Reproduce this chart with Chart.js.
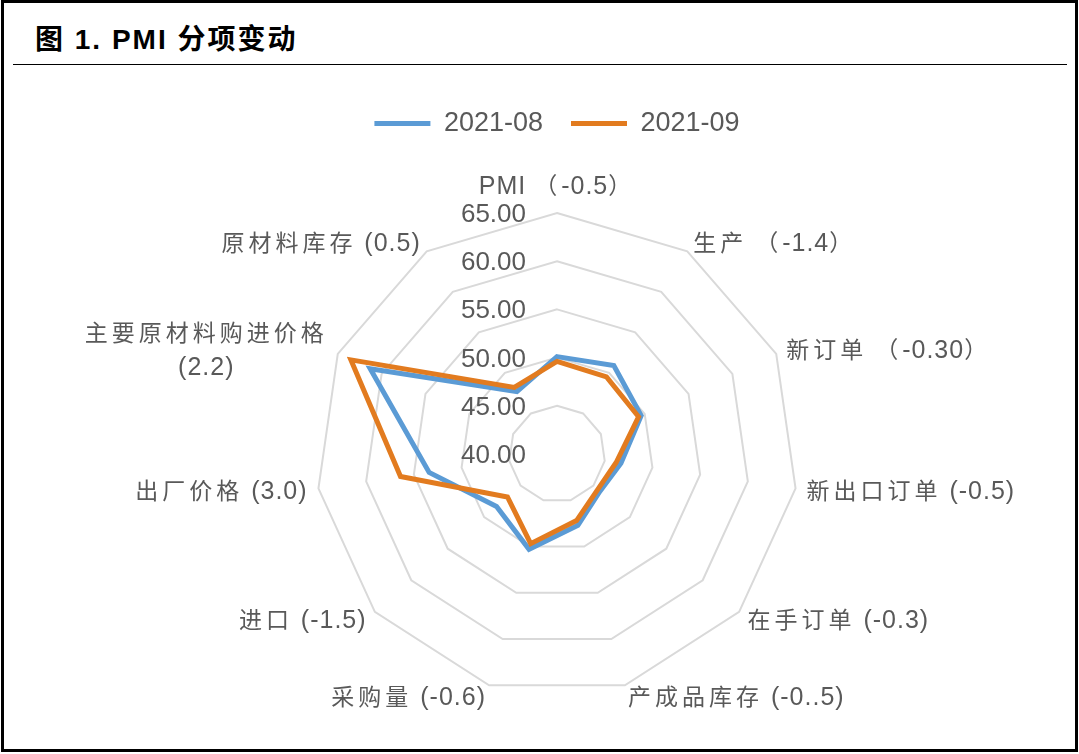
<!DOCTYPE html>
<html><head><meta charset="utf-8">
<script src="https://cdn.jsdelivr.net/npm/chart.js@4"></script>
<style>
html,body{margin:0;padding:0;background:#fff;width:1079px;height:754px;overflow:hidden;}
#frame{position:absolute;left:1px;top:0;width:1077px;height:752px;box-sizing:border-box;border:3px solid #000;}
#title{position:absolute;left:35px;top:24px;font:bold 28px 'Liberation Sans','Noto Sans CJK SC',sans-serif;letter-spacing:2px;line-height:32px;color:#000;white-space:nowrap;}
#rule{position:absolute;left:13px;top:64px;width:1054px;height:1px;background:#000;}
#wrap{position:absolute;left:0;top:0;width:1079px;height:754px;overflow:hidden;}
canvas{display:block;}
</style></head>
<body>
<div id="frame"></div>
<div id="title">图 1. PMI 分项变动</div>
<div id="rule"></div>
<div id="wrap"><canvas id="c" width="1079" height="780"></canvas></div>
<script>
// ---- data ----
const categories = [
  'PMI （-0.5）',
  '生产 （-1.4）',
  '新订单 （-0.30）',
  '新出口订单 (-0.5)',
  '在手订单 (-0.3)',
  '产成品库存 (-0..5)',
  '采购量 (-0.6)',
  '进口 (-1.5)',
  '出厂价格 (3.0)',
  ['主要原材料购进价格', '(2.2)'],
  '原材料库存 (0.5)'
];
const seriesNames = ['2021-08', '2021-09'];
const values2021_08 = [50.1, 50.9, 49.6, 46.7, 45.9, 47.7, 50.3, 48.3, 53.4, 61.3, 47.7];
const values2021_09 = [49.6, 49.5, 49.3, 46.2, 45.6, 47.2, 49.7, 46.8, 56.4, 63.5, 48.2];
const tickValues = [40, 45, 50, 55, 60, 65];

// ---- text helpers ----
const TXT = '#595959';
function runs(str){
  const out = [];
  for (const ch of str){
    const cjk = /[\u2E80-\u9FFF\u3000-\u303F\uFF00-\uFFEF]/.test(ch);
    if (out.length && out[out.length-1].cjk === cjk) out[out.length-1].t += ch;
    else out.push({t: ch, cjk});
  }
  return out;
}
function setRunFont(ctx, cjk){
  if (cjk){ ctx.font = "23px 'Noto Sans CJK SC'"; ctx.letterSpacing = '4px'; }
  else { ctx.font = "25px 'Liberation Sans'"; ctx.letterSpacing = '1px'; }
}
function textWidth(ctx, str){
  let w = 0;
  for (const r of runs(str)){ setRunFont(ctx, r.cjk); w += ctx.measureText(r.t).width; }
  return w;
}
function drawMixed(ctx, str, xLeft, yMid){
  ctx.textAlign = 'left'; ctx.textBaseline = 'alphabetic';
  let x = xLeft;
  for (const r of runs(str)){
    setRunFont(ctx, r.cjk);
    ctx.fillText(r.t, x, yMid + 9);
    x += ctx.measureText(r.t).width;
  }
}

const labelPlugin = {
  id: 'pmiLabels',
  beforeDatasetsDraw(chart){
    const s = chart.scales.r, ctx = chart.ctx;
    ctx.save();
    ctx.font = "26px 'Liberation Sans'";
    ctx.fillStyle = TXT; ctx.textAlign = 'right'; ctx.textBaseline = 'alphabetic';
    tickValues.forEach(v => {
      const d = s.getDistanceFromCenterForValue(v);
      ctx.fillText(v.toFixed(2), s.xCenter - 31, s.yCenter - d + 9);
    });
    ctx.restore();
  },
  afterDraw(chart){
    const s = chart.scales.r, ctx = chart.ctx;
    ctx.save();
    ctx.fillStyle = TXT;
    categories.forEach((lab, i) => {
      const lines = Array.isArray(lab) ? lab : [lab];
      const p = s.getPointPosition(i, s.drawingArea + 11);
      const c = Math.cos(p.angle);
      const align = c > 0.05 ? 'left' : (c < -0.05 ? 'right' : 'center');
      const widths = lines.map(l => textWidth(ctx, l));
      const blockW = Math.max(...widths);
      const gap = 34;
      let y0 = p.y - gap * (lines.length - 1) / 2;
      if (align === 'center') y0 -= 17;
      lines.forEach((l, k) => {
        let x;
        if (align === 'left') x = p.x + (blockW - widths[k]) / 2;
        else if (align === 'right') x = p.x - blockW + (blockW - widths[k]) / 2;
        else x = p.x - widths[k] / 2;
        drawMixed(ctx, l, x, y0 + k * gap);
      });
    });
    ctx.restore();
  }
};

new Chart(document.getElementById('c'), {
  type: 'radar',
  data: {
    labels: categories,
    datasets: [
      {label: seriesNames[0], data: values2021_08, borderColor: '#5b9bd5', backgroundColor: '#5b9bd5',
       borderWidth: 5, pointRadius: 0, pointHoverRadius: 0, fill: false,
       borderJoinStyle: 'miter', borderCapStyle: 'round', order: 1},
      {label: seriesNames[1], data: values2021_09, borderColor: '#e27b1f', backgroundColor: '#e27b1f',
       borderWidth: 5, pointRadius: 0, pointHoverRadius: 0, fill: false,
       borderJoinStyle: 'miter', borderCapStyle: 'round', order: 0}
    ]
  },
  options: {
    responsive: false,
    animation: false,
    layout: {padding: {top: 82, left: 316, right: 281, bottom: 18}},
    plugins: {
      legend: {
        position: 'top',
        labels: {
          usePointStyle: true, pointStyle: 'line', pointStyleWidth: 56,
          font: {family: "'Liberation Sans'", size: 27}, color: TXT, padding: 28,
          sort: (a, b) => a.datasetIndex - b.datasetIndex
        }
      },
      tooltip: {enabled: false}
    },
    scales: {
      r: {
        min: 40, max: 65,
        ticks: {display: false, stepSize: 5},
        grid: {color: '#d9d9d9', lineWidth: 2},
        angleLines: {display: false},
        pointLabels: {display: false}
      }
    }
  },
  plugins: [labelPlugin]
});
</script>
</body></html>
